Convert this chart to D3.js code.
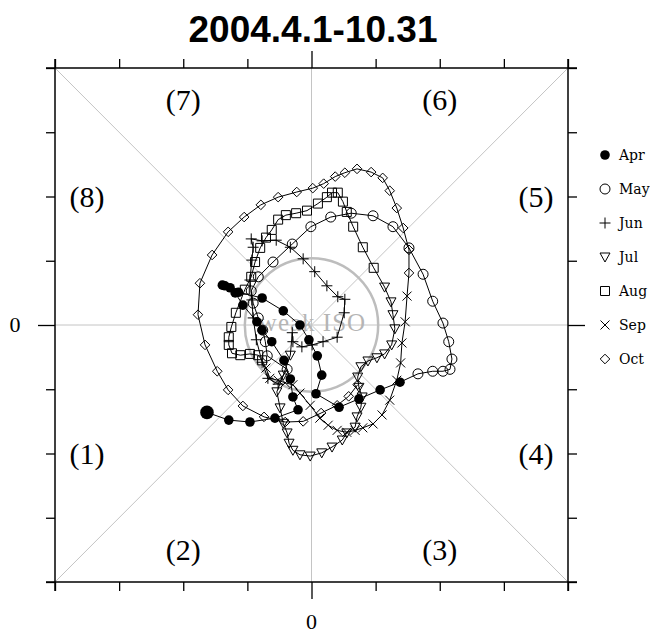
<!DOCTYPE html>
<html><head><meta charset="utf-8">
<script src="https://cdn.jsdelivr.net/npm/d3@7"></script>
<style>body{margin:0;background:#fff}</style>
</head><body>
<svg id="c" width="650" height="635"></svg>
<script>
const title = "2004.4.1-10.31";
const months = ["Apr","May","Jun","Jul","Aug","Sep","Oct"];
const tickValues = [-4,-3,-2,-1,0,1,2,3,4];
const phaseLabels = ["(1)","(2)","(3)","(4)","(5)","(6)","(7)","(8)"];
const phasePos = [[-3.5,-2],[-2,-3.5],[2,-3.5],[3.5,-2],[3.5,2],[2,3.5],[-2,3.5],[-3.5,2]];

const apr = [[-1.63,-1.36],[-1.29,-1.48],[-0.96,-1.51],[-0.57,-1.45],[-0.21,-1.32],[-0.29,-1.12],[-0.33,-0.84],[-0.43,-0.55],[-0.62,-0.26],[-0.77,-0.08],[-0.85,0.05],[-1.07,0.31],[-1.19,0.50],[-1.27,0.58],[-1.35,0.61],[-1.39,0.62],[-1.14,0.51],[-0.77,0.42],[-0.44,0.22],[-0.18,0.00],[-0.04,-0.23],[0.09,-0.48],[0.16,-0.78],[0.07,-1.07],[0.43,-1.28],[0.74,-1.15],[1.07,-1.01],[1.38,-0.89]];
const may = [[1.66,-0.76],[1.89,-0.72],[2.05,-0.72],[2.16,-0.69],[2.19,-0.53],[2.14,-0.26],[2.05,0.03],[1.89,0.37],[1.74,0.79],[1.52,1.20],[1.27,1.53],[0.96,1.70],[0.62,1.74],[0.30,1.68],[-0.01,1.53],[-0.30,1.26],[-0.60,0.98],[-0.83,0.75],[-0.94,0.53],[-0.91,0.34],[-0.83,0.11],[-0.76,-0.08],[-0.72,-0.26],[-0.69,-0.48],[-0.38,-0.69]];
const jun = [[-0.52,-0.92],[-0.68,-0.83],[-0.77,-0.58],[-0.86,-0.23],[-0.91,0.11],[-0.93,0.39],[-0.96,0.70],[-0.93,1.01],[-0.91,1.21],[-0.94,1.34],[-0.77,1.31],[-0.55,1.32],[-0.33,1.21],[-0.13,1.03],[0.05,0.83],[0.24,0.61],[0.41,0.44],[0.52,0.40],[0.51,0.19],[0.40,-0.19],[0.18,-0.26],[0.01,-0.31],[-0.15,-0.34],[-0.29,-0.26],[-0.30,-0.12]];
const jul = [[-0.33,-0.47],[-0.44,-0.78],[-0.54,-1.04],[-0.49,-1.29],[-0.44,-1.53],[-0.38,-1.68],[-0.35,-1.84],[-0.29,-1.95],[-0.18,-2.02],[-0.02,-2.04],[0.16,-1.99],[0.32,-1.90],[0.48,-1.79],[0.55,-1.68],[0.68,-1.59],[0.71,-1.43],[0.77,-1.28],[0.79,-1.12],[0.74,-0.97],[0.72,-0.81],[0.77,-0.65],[0.88,-0.56],[1.02,-0.51],[1.14,-0.45],[1.25,-0.31],[1.30,-0.06],[1.27,0.16],[1.24,0.36],[1.14,0.59]];
const aug = [[0.97,0.89],[0.80,1.21],[0.65,1.53],[0.55,1.76],[0.49,1.92],[0.41,2.06],[0.32,2.06],[0.24,1.99],[0.10,1.89],[-0.07,1.78],[-0.24,1.74],[-0.40,1.71],[-0.52,1.64],[-0.62,1.48],[-0.71,1.36],[-0.80,1.20],[-0.88,0.98],[-0.94,0.75],[-1.04,0.55],[-1.18,0.19],[-1.25,-0.03],[-1.29,-0.19],[-1.29,-0.31],[-1.24,-0.44],[-1.11,-0.47],[-0.96,-0.45],[-0.83,-0.47],[-0.77,-0.55]];
const sep = [[-0.71,-0.67],[-0.65,-0.83],[-0.52,-0.86],[-0.41,-0.90],[-0.29,-0.93],[-0.18,-1.06],[-0.02,-1.25],[0.13,-1.45],[0.26,-1.56],[0.40,-1.64],[0.55,-1.67],[0.68,-1.64],[0.80,-1.60],[0.96,-1.54],[1.10,-1.40],[1.22,-1.17],[1.33,-0.86],[1.39,-0.59],[1.41,-0.28],[1.46,0.05],[1.49,0.45]];
const oct = [[1.52,0.81],[1.52,1.17],[1.43,1.51],[1.33,1.82],[1.22,2.09],[1.11,2.29],[0.93,2.38],[0.71,2.43],[0.52,2.37],[0.37,2.31],[0.19,2.20],[0.02,2.13],[-0.23,2.07],[-0.52,1.99],[-0.79,1.87],[-1.05,1.68],[-1.30,1.45],[-1.55,1.09],[-1.74,0.65],[-1.77,0.16],[-1.66,-0.31],[-1.47,-0.72],[-1.30,-1.01],[-1.07,-1.26],[-0.74,-1.43],[-0.41,-1.51],[-0.13,-1.50],[0.15,-1.37],[0.40,-1.25],[0.58,-1.11],[0.72,-0.93]];
const series = [apr,may,jun,jul,aug,sep,oct];

const svg = d3.select("#c");
const x = d3.scaleLinear().domain([-4,4]).range([55,568]);
const y = d3.scaleLinear().domain([-4,4]).range([582,68]);
const grey = "#c4c4c4";

// title
svg.append("text").attr("x",313).attr("y",42).attr("text-anchor","middle")
  .attr("font-family","Liberation Sans, Arial, sans-serif").attr("font-weight","bold")
  .attr("font-size",37).text(title);

// grid lines
const g = svg.append("g");
g.append("line").attr("x1",x(-4)).attr("x2",x(4)).attr("y1",y(0)).attr("y2",y(0)).attr("stroke",grey);
g.append("line").attr("x1",x(0)).attr("x2",x(0)).attr("y1",y(-4)).attr("y2",y(4)).attr("stroke",grey);
g.append("line").attr("x1",x(-4)).attr("x2",x(4)).attr("y1",y(-4)).attr("y2",y(4)).attr("stroke",grey);
g.append("line").attr("x1",x(-4)).attr("x2",x(4)).attr("y1",y(4)).attr("y2",y(-4)).attr("stroke",grey);
g.append("circle").attr("cx",x(0)).attr("cy",y(0)).attr("r",x(1.04)-x(0))
  .attr("fill","none").attr("stroke","#bdbdbd").attr("stroke-width",2.5);
g.append("text").attr("x",x(0)+1).attr("y",y(0)+6).attr("text-anchor","middle")
  .attr("font-family","Liberation Serif, Times New Roman, serif").attr("font-size",25)
  .attr("letter-spacing",1).attr("fill","#b5b5b5").text("weak ISO");

// phase labels
svg.append("g").selectAll("text").data(phaseLabels).join("text")
  .attr("x",(d,i)=>x(phasePos[i][0])).attr("y",(d,i)=>y(phasePos[i][1])+10)
  .attr("text-anchor","middle").attr("font-family","Liberation Serif, Times New Roman, serif").attr("font-size",30)
  .text(d=>d);

// axes
function styleAxis(sel){
  sel.select(".domain").remove();
  sel.selectAll(".tick line").attr("stroke","#000").attr("stroke-width",1.3);
  sel.selectAll(".tick text").remove();
}
const fmt = ()=>"";
svg.append("g").attr("transform",`translate(0,${y(4)})`).call(d3.axisTop(x).tickValues(tickValues).tickSize(9).tickFormat(fmt)).call(styleAxis)
  .selectAll(".tick line").attr("y2",d=>d===0?-17:-9);
svg.append("g").attr("transform",`translate(0,${y(-4)})`).call(d3.axisBottom(x).tickValues(tickValues).tickSize(9).tickFormat(fmt)).call(styleAxis)
  .selectAll(".tick line").attr("y2",d=>d===0?17:9);
svg.append("g").attr("transform",`translate(${x(-4)},0)`).call(d3.axisLeft(y).tickValues(tickValues).tickSize(9).tickFormat(fmt)).call(styleAxis)
  .selectAll(".tick line").attr("x2",d=>d===0?-17:-9);
svg.append("g").attr("transform",`translate(${x(4)},0)`).call(d3.axisRight(y).tickValues(tickValues).tickSize(9).tickFormat(fmt)).call(styleAxis)
  .selectAll(".tick line").attr("x2",d=>d===0?17:9);
// frame
const fr = svg.append("g").attr("stroke","#000").attr("stroke-width",1.5);
fr.append("line").attr("x1",x(-4)-9).attr("x2",x(4)+9).attr("y1",y(4)).attr("y2",y(4));
fr.append("line").attr("x1",x(-4)-9).attr("x2",x(4)+9).attr("y1",y(-4)).attr("y2",y(-4));
fr.append("line").attr("x1",x(-4)).attr("x2",x(-4)).attr("y1",y(4)-9).attr("y2",y(-4)+9);
fr.append("line").attr("x1",x(4)).attr("x2",x(4)).attr("y1",y(4)-9).attr("y2",y(-4)+9);
svg.append("text").attr("x",x(0)).attr("y",629).attr("text-anchor","middle")
  .attr("font-family","Liberation Serif, Times New Roman, serif").attr("font-size",22).text("0");
svg.append("text").attr("x",15).attr("y",y(0)+7).attr("text-anchor","middle")
  .attr("font-family","Liberation Serif, Times New Roman, serif").attr("font-size",22).text("0");

// trajectory line
const all = series.flat();
svg.append("path").datum(all)
  .attr("d",d3.line().x(d=>x(d[0])).y(d=>y(d[1])))
  .attr("fill","none").attr("stroke","#000").attr("stroke-width",1);

const shapes = [
  null,
  null,
  "M-5.5,0H5.5M0,-5.5V5.5",
  "M-5,-4L5,-4L0,5Z",
  "M-4.5,-4.5H4.5V4.5H-4.5Z",
  "M-4.5,-4.5L4.5,4.5M-4.5,4.5L4.5,-4.5",
  "M0,-4.8L4.8,0L0,4.8L-4.8,0Z"
];
function drawMarker(sel, mi){
  if(mi===0){
    sel.append("circle").attr("r",4.8).attr("fill","#000");
  } else if(mi===1){
    sel.append("circle").attr("r",5).attr("fill","none").attr("stroke","#000").attr("stroke-width",1);
  } else {
    sel.append("path").attr("d",shapes[mi]).attr("fill","none").attr("stroke","#000").attr("stroke-width",1);
  }
}
series.forEach((s,mi)=>{
  const gg = svg.append("g");
  s.forEach((p,i)=>{
    const m = gg.append("g").attr("transform",`translate(${x(p[0])},${y(p[1])})`);
    if(mi===0 && i===0) m.append("circle").attr("r",6.8).attr("fill","#000");
    else drawMarker(m, mi);
  });
});

// legend
const legY = d3.scalePoint().domain(months).range([155,359]);
months.forEach((mname,mi)=>{
  const m = svg.append("g").attr("transform",`translate(605,${legY(mname)})`);
  drawMarker(m, mi);
  svg.append("text").attr("x",619).attr("y",legY(mname)+5).attr("font-family","DejaVu Serif, serif")
    .attr("font-size",14).text(mname);
});
</script>
</body></html>
